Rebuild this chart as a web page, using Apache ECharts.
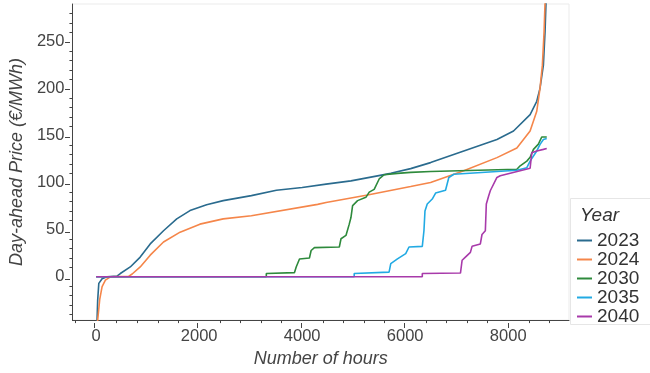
<!DOCTYPE html>
<html>
<head>
<meta charset="utf-8">
<script src="https://cdn.jsdelivr.net/npm/echarts@6/dist/echarts.min.js"></script>
<style>html,body{margin:0;padding:0;background:#fff}#c{width:650px;height:373px}</style>
</head>
<body>
<div id="c"></div>
<script>
const years = ['2023', '2024', '2030', '2035', '2040'];
const colors = ['#2a6b8e', '#f5864a', '#2e8a3c', '#22aae3', '#a83aaa'];

const hours2023 = [0, 18, 30, 52, 116, 210, 405, 470, 663, 856, 1050, 1308, 1565, 1822, 2145, 2467, 3014, 3500, 4000, 4464, 4947, 5720, 6106, 6493, 7137, 7781, 8103, 8425, 8554, 8618, 8683, 8715, 8734, 8760];
const price2023 = [-80, -46, -25, -7, -2, 0, 0.7, 3.5, 10.5, 21, 35, 49, 61.6, 70.4, 76.7, 81, 86.3, 92, 95, 98.5, 102, 110, 115, 121.4, 133.8, 146, 155, 172.4, 186.6, 200.6, 225, 260.5, 292, 340];

const hours2024 = [0, 30, 70, 116, 180, 277, 630, 700, 856, 1050, 1308, 1630, 2015, 2467, 3014, 4300, 4464, 5270, 6106, 6493, 7137, 7781, 8168, 8425, 8554, 8618, 8663, 8696, 8715, 8760];
const price2024 = [-90, -46, -24, -10.5, -3.5, 0, 0.5, 3, 10.5, 23, 37, 47.5, 56, 61.6, 65, 77, 79, 87, 96, 100.3, 112.7, 126.7, 137, 155, 176, 200.6, 225, 260.5, 292, 360];

const hours2030 = [0, 3304, 3304, 3851, 3884, 3948, 4141, 4174, 4238, 4721, 4754, 4850, 4914, 4947, 4979, 5076, 5237, 5302, 5398, 5495, 5592, 5850, 6106, 6493, 8168, 8232, 8361, 8425, 8490, 8586, 8651, 8748];
const price2030 = [0, 0, 3.5, 4.5, 10.5, 19, 20, 28, 31, 31.7, 40.5, 44, 56, 63, 75.7, 81, 84.5, 90, 93, 104, 108.5, 110, 111, 112, 114.4, 118, 123, 127, 135.5, 141, 148.6, 148.6];

const hours2035 = [0, 5010, 5010, 5687, 5720, 5850, 6010, 6074, 6332, 6364, 6384, 6428, 6525, 6590, 6783, 6847, 6944, 8168, 8361, 8425, 8554, 8618, 8683, 8748];
const price2035 = [0, 0, 3.5, 5, 14, 19, 24.6, 31.7, 32.4, 49, 70, 77.4, 82.7, 89, 92, 105.6, 109, 113.3, 116, 123, 133.8, 140.8, 146, 147];

const hours2040 = [0, 6332, 6332, 7073, 7105, 7169, 7266, 7298, 7459, 7491, 7556, 7575, 7620, 7652, 7781, 7845, 8425, 8458, 8554, 8683, 8748];
const price2040 = [0, 0, 3.5, 4, 17.6, 21, 26, 32.4, 35, 45, 49, 77.4, 86, 91.5, 105.6, 107.4, 115.4, 132, 133.8, 135.5, 136.4];

const xMajorTicks = [0, 2000, 4000, 6000, 8000];
const xMinorTicks = [-400, 400, 800, 1200, 1600, 2400, 2800, 3200, 3600, 4400, 4800, 5200, 5600, 6400, 6800, 7200, 7600, 8400, 8800];
const yMajorTicks = [0, 50, 100, 150, 200, 250];
const yMinorTicks = [-40, -30, -20, -10, 10, 20, 30, 40, 60, 70, 80, 90, 110, 120, 130, 140, 160, 170, 180, 190, 210, 220, 230, 240, 260, 270, 280];

const hoursAll = [hours2023, hours2024, hours2030, hours2035, hours2040];
const pricesAll = [price2023, price2024, price2030, price2035, price2040];

const X_MIN = -460, X_MAX = 9180, Y_MIN = -46, Y_MAX = 290;
const axisColor = '#444';
const font = 'Liberation Sans, Arial, sans-serif';

const chart = echarts.init(document.getElementById('c'), null, {renderer: 'canvas'});

const series = years.map((y, i) => ({
  name: y,
  type: 'line',
  xAxisIndex: 0,
  yAxisIndex: 0,
  data: hoursAll[i].map((h, k) => [h, pricesAll[i][k]]),
  showSymbol: false,
  symbol: 'none',
  smooth: false,
  clip: true,
  lineStyle: {width: 1.6, color: colors[i]},
  itemStyle: {color: colors[i]},
  z: 2 + i,
  animation: false
}));

const grid = {left: 70, right: 81, top: 4, bottom: 50};
const plain = v => String(v);

chart.setOption({
  animation: false,
  color: colors,
  grid: [
    Object.assign({show: true, borderColor: '#ebebeb', borderWidth: 1, backgroundColor: '#fff'}, grid),
    Object.assign({show: false}, grid)
  ],
  xAxis: [
    {
      type: 'value', gridIndex: 0, min: X_MIN, max: X_MAX,
      name: 'Number of hours', nameLocation: 'middle', nameGap: 26,
      nameTextStyle: {fontFamily: font, fontSize: 18, fontStyle: 'italic', color: axisColor},
      axisLine: {show: true, onZero: false, lineStyle: {color: axisColor, width: 1}},
      axisTick: {show: true, length: 3, customValues: xMinorTicks, lineStyle: {color: axisColor}},
      axisLabel: {show: true, customValues: xMajorTicks, formatter: plain, margin: 8, fontFamily: font, fontSize: 16.5, color: axisColor},
      splitLine: {show: false}
    },
    {
      type: 'value', gridIndex: 1, min: X_MIN, max: X_MAX,
      axisLine: {show: false, onZero: false},
      axisTick: {show: true, length: 5, customValues: xMajorTicks, lineStyle: {color: axisColor}},
      axisLabel: {show: false},
      splitLine: {show: false}
    }
  ],
  yAxis: [
    {
      type: 'value', gridIndex: 0, min: Y_MIN, max: Y_MAX,
      name: 'Day-ahead Price (€/MWh)', nameLocation: 'middle', nameGap: 43,
      nameTextStyle: {fontFamily: font, fontSize: 18, fontStyle: 'italic', color: axisColor},
      axisLine: {show: true, onZero: false, lineStyle: {color: axisColor, width: 1}},
      axisTick: {show: true, length: 3, customValues: yMinorTicks, lineStyle: {color: axisColor}},
      axisLabel: {show: true, customValues: yMajorTicks, formatter: plain, margin: 8, fontFamily: font, fontSize: 16.5, color: axisColor},
      splitLine: {show: false}
    },
    {
      type: 'value', gridIndex: 1, min: Y_MIN, max: Y_MAX,
      axisLine: {show: false, onZero: false},
      axisTick: {show: true, length: 5, customValues: yMajorTicks, lineStyle: {color: axisColor}},
      axisLabel: {show: false},
      splitLine: {show: false}
    }
  ],
  legend: {
    data: years,
    orient: 'vertical',
    left: 577,
    top: 231,
    icon: 'rect',
    itemWidth: 15,
    itemHeight: 2,
    itemGap: 0,
    textStyle: {fontFamily: font, fontSize: 19, lineHeight: 17, color: '#333', padding: [0, 0, 0, 0]},
    padding: 0
  },
  graphic: [
    {
      type: 'rect', left: 570, top: 198, z: -1,
      shape: {width: 100, height: 126},
      style: {fill: '#fff', stroke: '#e6e6e6', lineWidth: 1}
    },
    {
      type: 'text', left: 580, top: 206,
      style: {text: 'Year', fontFamily: font, fontSize: 19, fontStyle: 'italic', fill: '#333'}
    }
  ],
  series: series
});
</script>
</body>
</html>
